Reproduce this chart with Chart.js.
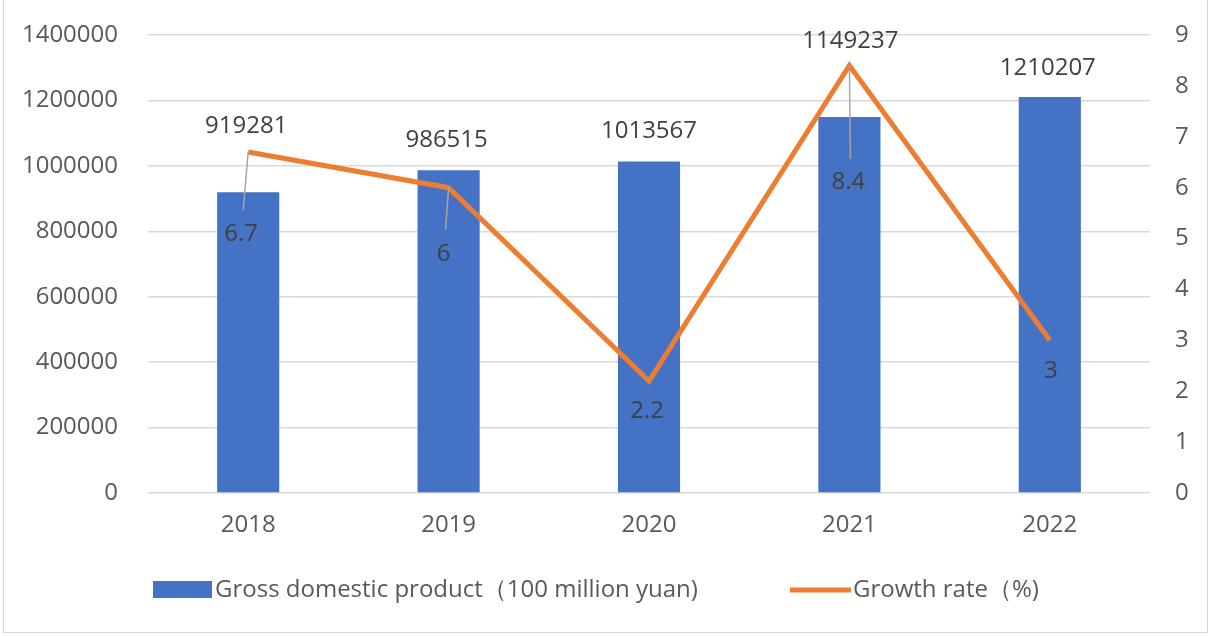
<!DOCTYPE html>
<html>
<head>
<meta charset="utf-8">
<script src="https://cdn.jsdelivr.net/npm/chart.js@4.4.0/dist/chart.umd.min.js"></script>
<style>
  html, body { margin: 0; padding: 0; background: #fff; }
</style>
</head>
<body>
<canvas id="gdpChart" width="1211" height="636"></canvas>
<script>
const years = ['2018', '2019', '2020', '2021', '2022'];
const gdp = [919281, 986515, 1013567, 1149237, 1210207];
const growth = [6.7, 6, 2.2, 8.4, 3];
const gdpAxisMax = 1400000;
const gdpAxisStep = 200000;
const rateAxisMax = 9;
const rateAxisStep = 1;
const gdpName = 'Gross domestic product（100 million yuan)';
const rateName = 'Growth rate（%)';

// where each value label sits, in px from its bar top / line point
const gdpLabelShift = [[-2, -66], [-2, -30], [0, -30], [1, -76], [-2, -29]];
const rateLabelShift = [[-7, 82], [-5, 66], [-2, 30], [-1, 117], [1, 31]];

const BLUE = '#4472C4';
const ORANGE = '#ED7D31';
const TEXT = '#595959';
const FONT = '"Open Sans", "Noto Sans", sans-serif';
const SIZE = 24;

const valueLabels = {
  id: 'valueLabels',
  afterDatasetsDraw(chart) {
    const ctx = chart.ctx;
    const bars = chart.getDatasetMeta(1).data;
    const pts = chart.getDatasetMeta(0).data;
    ctx.save();
    ctx.font = SIZE + 'px ' + FONT;
    ctx.textAlign = 'center';
    ctx.textBaseline = 'middle';

    // leader lines for growth labels that were pulled away from the line
    pts.forEach((p, i) => {
      const [dx, dy] = rateLabelShift[i];
      if (dy > 45) {
        ctx.strokeStyle = '#a6a6a6';
        ctx.lineWidth = 1.5;
        ctx.beginPath();
        ctx.moveTo(p.x, p.y);
        ctx.lineTo(p.x + dx + 2, p.y + dy - 24);
        ctx.stroke();
      }
    });

    ctx.fillStyle = '#404040';
    bars.forEach((b, i) => {
      const [dx, dy] = gdpLabelShift[i];
      ctx.fillText(String(gdp[i]), b.x + dx, b.y + dy);
    });
    pts.forEach((p, i) => {
      const [dx, dy] = rateLabelShift[i];
      ctx.fillText(String(growth[i]), p.x + dx, p.y + dy);
    });
    ctx.restore();
  }
};

const bottomLegend = {
  id: 'bottomLegend',
  afterDraw(chart) {
    const ctx = chart.ctx;
    ctx.save();
    ctx.fillStyle = BLUE;
    ctx.fillRect(153, 581, 59, 17);
    ctx.strokeStyle = ORANGE;
    ctx.lineWidth = 5;
    ctx.beginPath();
    ctx.moveTo(790, 590);
    ctx.lineTo(851, 590);
    ctx.stroke();
    ctx.fillStyle = TEXT;
    ctx.font = SIZE + 'px ' + FONT;
    ctx.textBaseline = 'middle';
    ctx.textAlign = 'left';
    ctx.fillText(gdpName, 215, 590);
    ctx.fillText(rateName, 853, 590);

    // thin frame around the chart
    ctx.strokeStyle = '#d9d9d9';
    ctx.lineWidth = 1;
    ctx.strokeRect(3.5, -1, 1204, 633.5);
    ctx.restore();
  }
};

// fixed axis widths; drop the label overhang so the plot keeps its box
function fixWidth(w) {
  return scale => {
    scale.width = w;
    scale.paddingTop = 0;
    scale.paddingBottom = 0;
  };
}

new Chart(document.getElementById('gdpChart'), {
  data: {
    labels: years,
    datasets: [
      {
        type: 'line',
        label: rateName,
        data: growth,
        yAxisID: 'y1',
        borderColor: ORANGE,
        backgroundColor: ORANGE,
        borderWidth: 5,
        pointRadius: 0,
        tension: 0,
        order: 0
      },
      {
        type: 'bar',
        label: gdpName,
        data: gdp,
        yAxisID: 'y',
        backgroundColor: BLUE,
        categoryPercentage: 1,
        barPercentage: 0.31,
        order: 1
      }
    ]
  },
  options: {
    responsive: false,
    animation: false,
    devicePixelRatio: 1,
    layout: { padding: { top: 35, left: 0, right: 0, bottom: 0 } },
    plugins: {
      legend: { display: false },
      tooltip: { enabled: false }
    },
    scales: {
      x: {
        grid: { display: false, drawTicks: false },
        border: { display: false },
        ticks: { color: TEXT, font: { family: FONT, size: SIZE }, padding: 18 },
        afterFit(scale) {
          scale.height = 143;
          scale.paddingLeft = 0;
          scale.paddingRight = 0;
        }
      },
      y: {
        position: 'left',
        min: 0,
        max: gdpAxisMax,
        grid: { color: '#d9d9d9', lineWidth: 1.5, drawTicks: false },
        border: { display: false },
        ticks: {
          stepSize: gdpAxisStep,
          color: TEXT,
          font: { family: FONT, size: SIZE },
          padding: 30,
          callback: v => String(v)
        },
        afterFit: fixWidth(148)
      },
      y1: {
        position: 'right',
        min: 0,
        max: rateAxisMax,
        grid: { display: false, drawTicks: false },
        border: { display: false },
        ticks: {
          stepSize: rateAxisStep,
          color: TEXT,
          font: { family: FONT, size: SIZE },
          padding: 25,
          callback: v => String(v)
        },
        afterFit: fixWidth(61)
      }
    }
  },
  plugins: [valueLabels, bottomLegend]
});
</script>
</body>
</html>
